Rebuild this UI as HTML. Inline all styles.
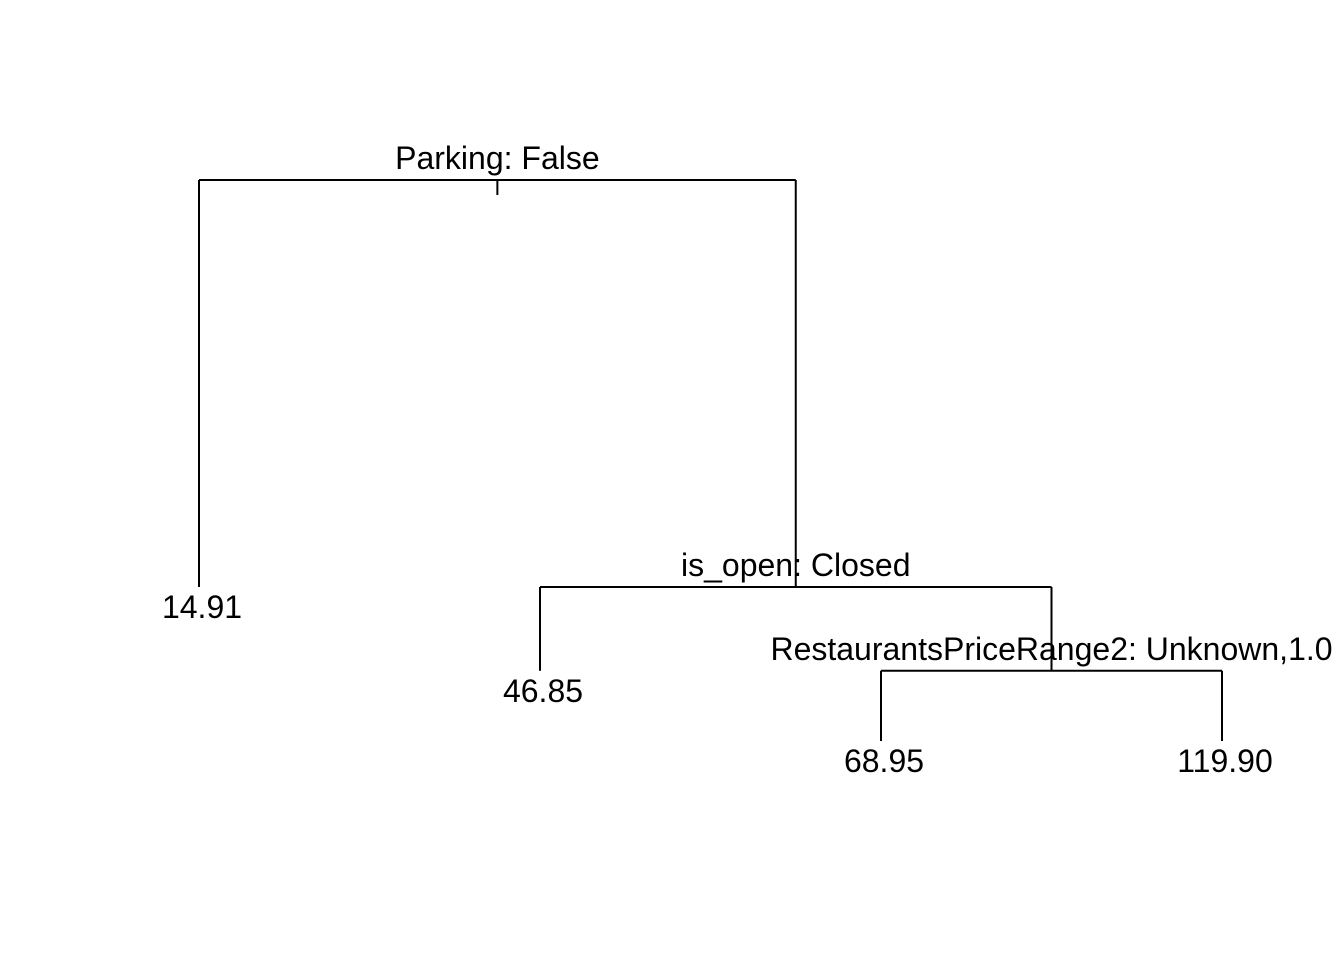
<!DOCTYPE html>
<html><head><meta charset="utf-8"><style>
html,body{margin:0;padding:0;background:#fff;}
svg{display:block;}
text{font-family:"Liberation Sans",Arial,sans-serif;font-size:32px;fill:#000;}
</style></head><body>
<svg id="chart" width="1344" height="960"></svg>
<script>
// Tree data: node ids, labels, parent, split heights (data units), x order
const nodeIds = ["root","leafA","nodeB","leafB","nodeC","leafC","leafD"];
const nodeLabels = ["Parking: False","14.91","is_open: Closed","46.85","RestaurantsPriceRange2: Unknown,1.0","68.95","119.90"];
const nodeParents = [null,"root","root","nodeB","nodeB","nodeC","nodeC"];
const nodeIsLeaf = [false,true,false,true,false,true,true];
const nodeHeights = [0,5.1,5.1,6.15,6.15,7.03,7.03];
const leafOrder = [1,2,3,4]; // leaf x positions in order leafA, leafB, leafC, leafD

const svg = document.getElementById('chart');
const NS = 'http://www.w3.org/2000/svg';
function xScale(v){ return 199 + (v-1)*341; }
function yScale(h){ return 180 + h*79.8; }

const pos = {};
let li = 0;
nodeIds.forEach((id,i)=>{ if(nodeIsLeaf[i]){ pos[id]={x:xScale(leafOrder[li++])}; } });
// internal node x = midpoint of children (bottom-up)
for(let i=nodeIds.length-1;i>=0;i--){
  if(!nodeIsLeaf[i]){
    const kids = nodeIds.filter((k,j)=>nodeParents[j]===nodeIds[i]);
    pos[nodeIds[i]]={x:(pos[kids[0]].x+pos[kids[1]].x)/2};
  }
}
nodeIds.forEach((id,i)=>{ pos[id].y = yScale(nodeHeights[i]); });

function line(x1,y1,x2,y2,name){
  const l=document.createElementNS(NS,'line');
  l.setAttribute('x1',x1);l.setAttribute('y1',y1);l.setAttribute('x2',x2);l.setAttribute('y2',y2);
  l.setAttribute('stroke','#000');l.setAttribute('stroke-width','2');
  
  
  svg.appendChild(l);
}
function label(x,y,t,name){
  const e=document.createElementNS(NS,'text');
  e.setAttribute('x',x);e.setAttribute('y',y);e.setAttribute('text-anchor','middle');
  e.textContent=t;
  
  
  svg.appendChild(e);
}
// root tick
line(pos.root.x,pos.root.y,pos.root.x,pos.root.y+15,'root-stem');
nodeIds.forEach((id,i)=>{
  if(nodeIsLeaf[i]) return;
  const kids = nodeIds.filter((k,j)=>nodeParents[j]===id);
  const p=pos[id];
  line(pos[kids[0]].x,p.y,pos[kids[1]].x,p.y,'split-bar-'+id);
  kids.forEach(k=>{ line(pos[k].x,p.y,pos[k].x,pos[k].y,'branch-'+k); });
  label(p.x,p.y-11,nodeLabels[i],'split-label-'+id);
});
nodeIds.forEach((id,i)=>{
  if(!nodeIsLeaf[i]) return;
  label(pos[id].x+3,pos[id].y+31,nodeLabels[i],'leaf-value-'+id);
});
</script>
</body></html>
